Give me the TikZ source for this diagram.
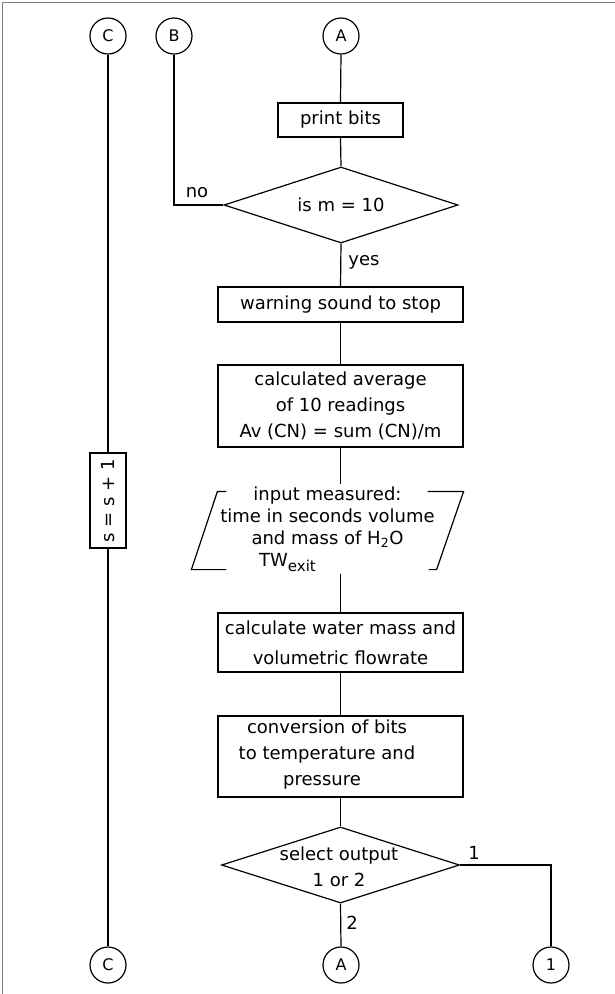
\documentclass[tikz,border=0pt]{standalone}
\usepackage{fontspec}
\setmainfont{DejaVu Sans}
\usetikzlibrary{shapes.geometric}
\begin{document}
\begin{tikzpicture}[x=1pt,y=-1pt,line width=1.2pt,
  every node/.style={font=\fontsize{18}{26}\selectfont,inner sep=0pt},
  conn/.style={circle,draw,minimum size=36pt,font=\fontsize{16}{16}\selectfont},
  procbox/.style={rectangle,draw,minimum width=245pt},
  decision/.style={diamond,draw,minimum height=76pt},
  lbl/.style={font=\fontsize{18}{18}\selectfont}]
\useasboundingbox (0,0) rectangle (615,994);
% frame edges
\draw[gray,line width=1.5pt] (2.5,994) -- (2.5,2.5) -- (615,2.5);

% connectors at the top
\node[conn] (Ct) at (108,36) {C};
\node[conn] (Bt) at (174,36) {B};
\node[conn] (At) at (341,36) {A};

% main column
\node[procbox,minimum width=125pt,minimum height=34pt] (print) at (340.5,120) {print bits};
\node[decision,minimum width=234pt] (ism) at (341,205) {};
\node (ismtxt) at (341,205) {is m = 10};
\node[procbox,minimum height=35pt] (warn) at (340.5,304.5) {warning sound to stop};
\node[procbox,minimum height=82pt,align=center] (avg) at (340.5,406)
  {calculated average\\of 10 readings\\Av (CN) = sum (CN)/m};
\node[minimum width=271pt,minimum height=88pt,align=center,
      font=\fontsize{18}{22}\selectfont] (inp) at (327.5,529)
  {input measured:\\time in seconds volume\\and mass of H\textsubscript{2}O\\TW\raisebox{-5pt}{\fontsize{15}{15}\selectfont exit}\hspace*{80pt}};
% input/output bracket outline
\draw ([shift={(35,7)}]inp.north west) -- ([shift={(26,7)}]inp.north west)
   -- ([shift={(0,-4)}]inp.south west) -- ([shift={(35,-4)}]inp.south west);
\draw ([shift={(-36,7)}]inp.north east) -- ([shift={(0,7)}]inp.north east)
   -- ([shift={(-27,-4)}]inp.south east) -- ([shift={(-35,-4)}]inp.south east);
\node[procbox,minimum height=59pt,align=center,font=\fontsize{18}{30}\selectfont] (water)
  at (340.5,642.5) {calculate water mass and\\volumetric flowrate};
\node[procbox,minimum height=81pt] (conv) at (340.5,756.5) {};
\node[align=center] (convtxt) at (327,755)
  {conversion of bits\\to temperature and\\pressure\hspace*{10pt}};
\node[decision,minimum width=238pt] (sel) at (340.5,865) {};
\node[align=center] (seltxt) at (339,867) {select output\\1 or 2};

% counter on the left
\node[draw,rotate=90,minimum width=95pt,minimum height=36pt] (sbox) at (108,500.5) {s = s + 1};

% connectors at the bottom
\node[conn] (Cb) at (108,965) {C};
\node[conn] (Ab) at (341,965) {A};
\node[conn] (One) at (551,965) {1};

% flow lines
\draw (Ct.south) -- (sbox.east);
\draw (sbox.west) -- (Cb.north);
\draw (Bt.south) -- (Bt.south |- ism.west) -- (ism.west);
\node[lbl] at (197,193) {no};
\draw (At.south) -- (print.north);
\draw (print.south) -- (ism.north);
\draw (ism.south) -- (warn.north);
\node[lbl] at (364,262) {yes};
\draw (warn.south) -- (avg.north);
\draw (avg.south) -- (avg.south |- inp.north);
\draw (water.north |- inp.south) -- (water.north);
\draw (water.south) -- (conv.north);
\draw (conv.south) -- (sel.north);
\draw (sel.east) -| (One.north);
\node[lbl] at (474,853) {1};
\draw (sel.south) -- (Ab.north);
\node[lbl] at (352,923) {2};
\end{tikzpicture}
\end{document}
